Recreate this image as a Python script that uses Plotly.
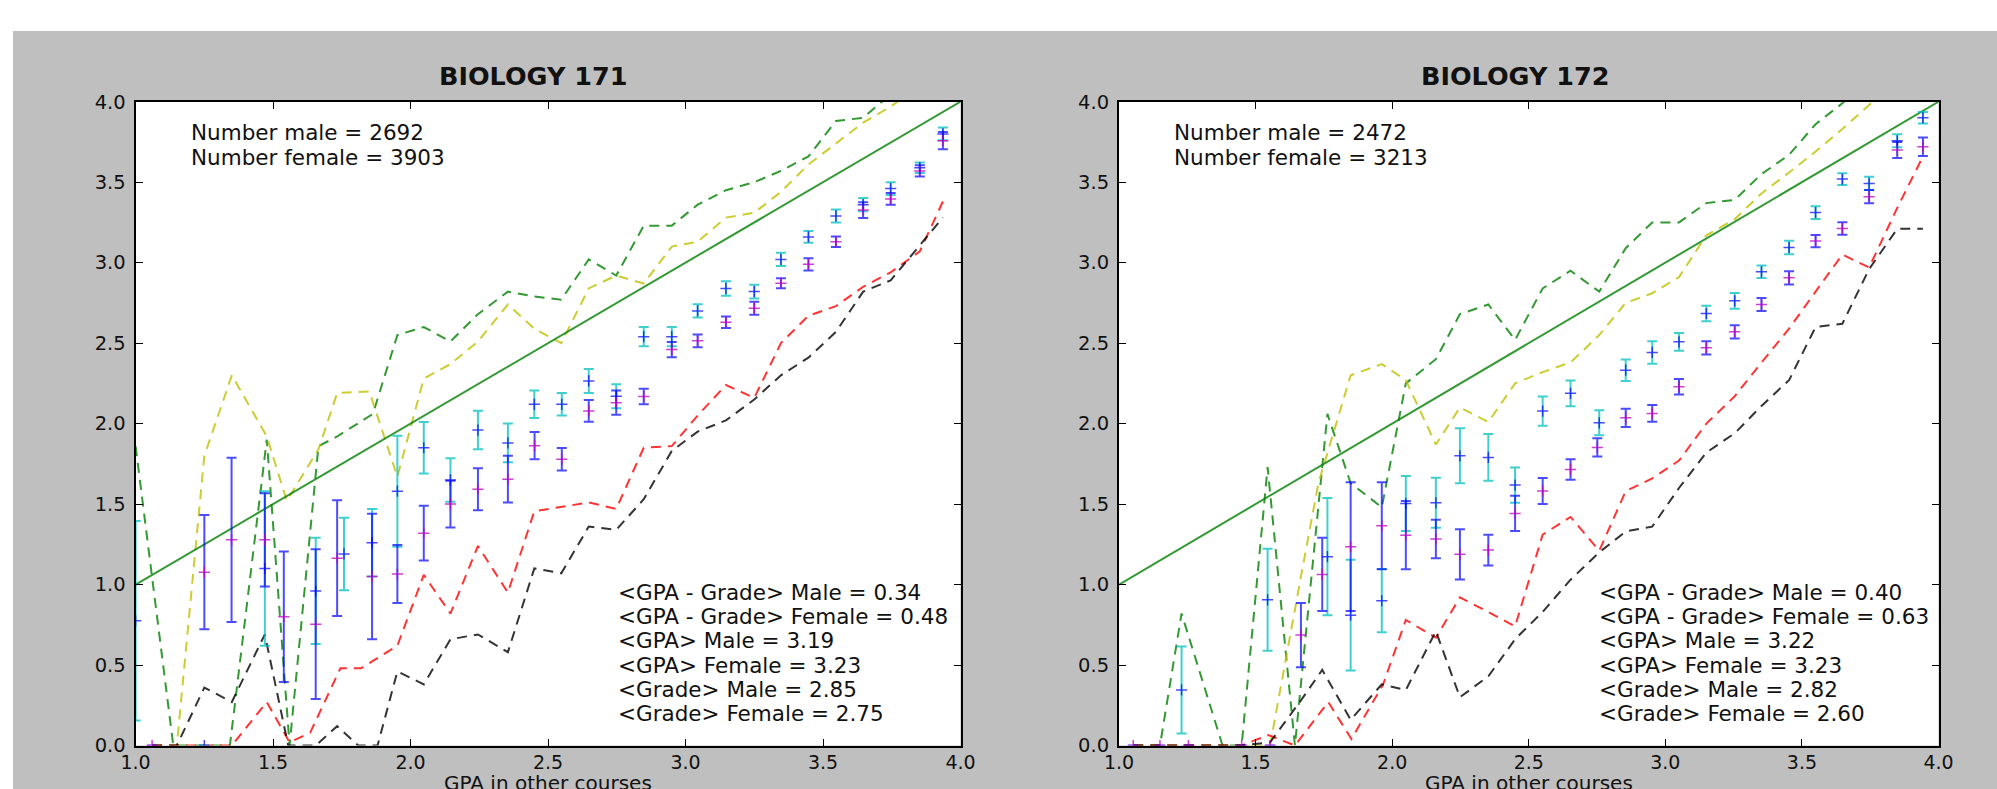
import plotly.graph_objects as go

# ---------------- BIOLOGY 171 ----------------
b171_male_x = [1.0, 1.25, 1.47, 1.655, 1.758, 1.86, 1.952, 2.048, 2.145, 2.245, 2.354, 2.45, 2.55, 2.648,
               2.748, 2.848, 2.95, 3.044, 3.147, 3.25, 3.347, 3.447, 3.547, 3.646, 3.746, 3.852, 3.936]
b171_male_y = [0.775, 0.0, 1.10, 0.96, 1.19, 1.26, 1.58, 1.85, 1.65, 1.96, 1.88, 2.12, 2.12, 2.265,
               2.17, 2.54, 2.54, 2.70, 2.84, 2.82, 3.02, 3.16, 3.29, 3.36, 3.46, 3.59, 3.80]
b171_male_err = [0.62, 0.0, 0.48, 0.33, 0.225, 0.21, 0.345, 0.16, 0.135, 0.12, 0.12, 0.085, 0.07, 0.075,
                 0.075, 0.06, 0.06, 0.041, 0.045, 0.043, 0.041, 0.036, 0.041, 0.041, 0.04, 0.033, 0.04]

b171_female_x = [1.06, 1.25, 1.349, 1.47, 1.539, 1.655, 1.733, 1.86, 1.952, 2.048, 2.145, 2.245, 2.354,
                 2.451, 2.55, 2.648, 2.748, 2.848, 2.95, 3.044, 3.147, 3.25, 3.347, 3.447, 3.547, 3.646,
                 3.746, 3.852, 3.936]
b171_female_y = [0.0, 1.077, 1.278, 1.278, 0.80, 0.754, 1.164, 1.05, 1.065, 1.319, 1.50, 1.592, 1.655,
                 1.863, 1.779, 2.079, 2.13, 2.168, 2.46, 2.514, 2.63, 2.717, 2.872, 2.99, 3.13, 3.327,
                 3.396, 3.57, 3.758]
b171_female_err = [0.0, 0.355, 0.51, 0.29, 0.405, 0.465, 0.36, 0.39, 0.18, 0.17, 0.145, 0.13, 0.145,
                   0.085, 0.07, 0.067, 0.075, 0.048, 0.047, 0.04, 0.036, 0.04, 0.031, 0.038, 0.033, 0.049,
                   0.036, 0.035, 0.053]

b171_green_x = [1.0, 1.137, 1.25, 1.343, 1.477, 1.56, 1.665, 1.733, 1.863, 1.952, 2.048, 2.145, 2.245,
                2.354, 2.45, 2.548, 2.648, 2.748, 2.848, 2.95, 3.044, 3.147, 3.25, 3.347, 3.447, 3.547,
                3.646, 3.746, 3.852, 3.936]
b171_green_y = [1.86, 0.0, 0.0, 0.0, 1.90, 0.0, 1.86, 1.92, 2.06, 2.55, 2.60, 2.51, 2.68, 2.82, 2.79,
                2.77, 3.02, 2.92, 3.23, 3.23, 3.36, 3.45, 3.50, 3.57, 3.66, 3.88, 3.90, 4.05, 4.2, 4.3]

b171_yellow_x = [1.06, 1.15, 1.25, 1.35, 1.477, 1.55, 1.665, 1.733, 1.85, 1.952, 2.048, 2.145, 2.245,
                 2.354, 2.45, 2.548, 2.648, 2.748, 2.848, 2.95, 3.044, 3.147, 3.25, 3.347, 3.447, 3.547,
                 3.646, 3.746, 3.852, 3.936]
b171_yellow_y = [0.0, 0.0, 1.80, 2.30, 1.92, 1.52, 1.84, 2.19, 2.20, 1.67, 2.28, 2.37, 2.51, 2.74, 2.59,
                 2.50, 2.84, 2.92, 2.87, 3.10, 3.13, 3.28, 3.31, 3.44, 3.61, 3.74, 3.87, 3.97, 4.1, 4.2]

b171_red_x = [1.06, 1.15, 1.25, 1.35, 1.477, 1.56, 1.635, 1.745, 1.82, 1.952, 2.048, 2.145, 2.245, 2.354,
              2.45, 2.548, 2.648, 2.748, 2.848, 2.95, 3.044, 3.147, 3.25, 3.347, 3.447, 3.547, 3.646,
              3.746, 3.852, 3.936]
b171_red_y = [0.0, 0.0, 0.0, 0.0, 0.27, 0.02, 0.08, 0.48, 0.48, 0.62, 1.06, 0.82, 1.24, 0.95, 1.455,
              1.48, 1.51, 1.47, 1.85, 1.86, 2.05, 2.24, 2.16, 2.50, 2.67, 2.73, 2.85, 2.94, 3.07, 3.38]

b171_black_x = [1.06, 1.15, 1.25, 1.35, 1.47, 1.555, 1.655, 1.733, 1.81, 1.88, 1.952, 2.048, 2.145,
                2.245, 2.354, 2.45, 2.548, 2.648, 2.748, 2.848, 2.95, 3.044, 3.147, 3.25, 3.347, 3.447,
                3.547, 3.646, 3.746, 3.852, 3.936]
b171_black_y = [0.0, 0.0, 0.36, 0.27, 0.69, 0.0, 0.0, 0.12, 0.0, 0.0, 0.46, 0.38, 0.66, 0.69, 0.58,
                1.10, 1.07, 1.36, 1.34, 1.53, 1.83, 1.95, 2.02, 2.15, 2.30, 2.41, 2.57, 2.82, 2.89,
                3.11, 3.28]

b171_counts = ["Number male = 2692", "Number female = 3903"]
b171_stats = ["<GPA - Grade> Male = 0.34", "<GPA - Grade> Female = 0.48", "<GPA> Male = 3.19",
              "<GPA> Female = 3.23", "<Grade> Male = 2.85", "<Grade> Female = 2.75"]

# ---------------- BIOLOGY 172 ----------------
b172_male_x = [1.229, 1.544, 1.763, 1.848, 1.962, 2.05, 2.16, 2.248, 2.352, 2.45, 2.551, 2.653, 2.758,
               2.855, 2.952, 3.05, 3.15, 3.254, 3.352, 3.453, 3.55, 3.648, 3.746, 3.849, 3.943]
b172_male_y = [0.345, 0.905, 1.173, 0.81, 0.90, 1.504, 1.508, 1.80, 1.79, 1.618, 2.078, 2.188, 2.005,
               2.332, 2.442, 2.508, 2.684, 2.763, 2.943, 3.094, 3.311, 3.519, 3.492, 3.757, 3.90]
b172_male_err = [0.27, 0.317, 0.364, 0.344, 0.197, 0.171, 0.155, 0.171, 0.145, 0.11, 0.091, 0.08, 0.078,
                 0.067, 0.07, 0.055, 0.048, 0.049, 0.039, 0.042, 0.04, 0.036, 0.041, 0.04, 0.036]

b172_female_x = [1.052, 1.15, 1.254, 1.449, 1.553, 1.666, 1.744, 1.848, 1.962, 2.05, 2.16, 2.248, 2.352,
                 2.45, 2.551, 2.653, 2.751, 2.855, 2.952, 3.05, 3.15, 3.254, 3.352, 3.453, 3.55, 3.648,
                 3.746, 3.849, 3.943]
b172_female_y = [0.0, 0.0, 0.0, 0.0, 0.0, 0.686, 1.063, 1.235, 1.365, 1.307, 1.283, 1.188, 1.214, 1.442,
                 1.581, 1.715, 1.852, 2.036, 2.063, 2.229, 2.471, 2.57, 2.74, 2.906, 3.134, 3.212, 3.41,
                 3.70, 3.72]
b172_female_err = [0.0, 0.0, 0.0, 0.0, 0.0, 0.2, 0.228, 0.40, 0.27, 0.212, 0.119, 0.156, 0.096, 0.11,
                   0.081, 0.064, 0.057, 0.057, 0.052, 0.048, 0.041, 0.041, 0.041, 0.041, 0.038, 0.039,
                   0.041, 0.05, 0.057]

b172_green_x = [1.052, 1.15, 1.229, 1.379, 1.449, 1.544, 1.644, 1.763, 1.848, 1.962, 2.05, 2.16, 2.248,
                2.352, 2.45, 2.551, 2.653, 2.758, 2.855, 2.952, 3.05, 3.15, 3.254, 3.352, 3.453, 3.55,
                3.648, 3.746, 3.849, 3.943]
b172_green_y = [0.0, 0.0, 0.82, 0.0, 0.0, 1.73, 0.0, 2.06, 1.63, 1.48, 2.25, 2.40, 2.68, 2.74, 2.52,
                2.84, 2.95, 2.82, 3.09, 3.25, 3.25, 3.37, 3.39, 3.55, 3.67, 3.86, 3.99, 4.15, 4.3, 4.4]

b172_yellow_x = [1.052, 1.449, 1.553, 1.666, 1.73, 1.848, 1.962, 2.05, 2.16, 2.248, 2.352, 2.45, 2.551,
                 2.653, 2.758, 2.855, 2.952, 3.05, 3.15, 3.254, 3.352, 3.453, 3.55, 3.648, 3.746, 3.849,
                 3.943]
b172_yellow_y = [0.0, 0.0, 0.0, 1.05, 1.63, 2.30, 2.37, 2.27, 1.87, 2.10, 2.01, 2.25, 2.32, 2.38, 2.55,
                 2.75, 2.81, 2.91, 3.17, 3.27, 3.43, 3.56, 3.69, 3.83, 3.98, 4.15, 4.3]

b172_red_x = [1.052, 1.449, 1.547, 1.644, 1.766, 1.851, 1.967, 2.05, 2.16, 2.248, 2.352, 2.45, 2.551,
              2.653, 2.758, 2.855, 2.952, 3.05, 3.15, 3.254, 3.352, 3.453, 3.55, 3.648, 3.746, 3.849, 3.943]
b172_red_y = [0.0, 0.0, 0.065, 0.0, 0.27, 0.04, 0.38, 0.78, 0.67, 0.92, 0.83, 0.74, 1.31, 1.42, 1.21,
              1.58, 1.66, 1.77, 2.0, 2.17, 2.38, 2.59, 2.82, 3.05, 2.97, 3.34, 3.66]

b172_black_x = [1.052, 1.449, 1.553, 1.666, 1.744, 1.848, 1.962, 2.05, 2.16, 2.248, 2.352, 2.45, 2.551,
                2.653, 2.758, 2.855, 2.952, 3.05, 3.15, 3.254, 3.352, 3.453, 3.55, 3.648, 3.746, 3.849,
                3.943]
b172_black_y = [0.0, 0.0, 0.02, 0.28, 0.47, 0.16, 0.38, 0.345, 0.71, 0.30, 0.43, 0.66, 0.83, 1.03, 1.20,
                1.33, 1.36, 1.60, 1.82, 1.94, 2.11, 2.27, 2.60, 2.62, 2.96, 3.21, 3.21]

b172_counts = ["Number male = 2472", "Number female = 3213"]
b172_stats = ["<GPA - Grade> Male = 0.40", "<GPA - Grade> Female = 0.63", "<GPA> Male = 3.22",
              "<GPA> Female = 3.23", "<Grade> Male = 2.82", "<Grade> Female = 2.60"]

diag_x = [1.0, 4.0]
diag_y = [1.0, 4.0]

titles = ["BIOLOGY 171", "BIOLOGY 172"]
x_label = "GPA in other courses"
tick_vals = [0.0, 0.5, 1.0, 1.5, 2.0, 2.5, 3.0, 3.5, 4.0]
tick_text = ["0.0", "0.5", "1.0", "1.5", "2.0", "2.5", "3.0", "3.5", "4.0"]
x_tick_vals = [1.0, 1.5, 2.0, 2.5, 3.0, 3.5, 4.0]
x_tick_text = ["1.0", "1.5", "2.0", "2.5", "3.0", "3.5", "4.0"]

# ---------------- styling ----------------
W, H = 1997, 789
FONT = "DejaVu Sans"
TXT = "#111111"
C_GREEN = "rgba(0,128,0,0.8)"
C_YELLOW = "rgba(191,191,0,0.8)"
C_RED = "rgba(255,0,0,0.8)"
C_BLACK = "rgba(0,0,0,0.8)"
C_CYAN = "rgba(0,191,191,0.75)"
C_BLUE = "rgba(0,0,255,0.7)"
C_MAG = "rgba(191,0,191,0.75)"
DASH = "10px,7px"


def px_x(px):
    return px / W


def px_y(py):
    return (H - py) / H


panels = [
    dict(xa="x", ya="y", dom=[135.6 / W, 960.5 / W], title_px=533.5, txt_px=188.5, stat_px=615.5,
         male=(b171_male_x, b171_male_y, b171_male_err),
         female=(b171_female_x, b171_female_y, b171_female_err),
         lines=[(b171_green_x, b171_green_y, C_GREEN), (b171_yellow_x, b171_yellow_y, C_YELLOW),
                (b171_red_x, b171_red_y, C_RED), (b171_black_x, b171_black_y, C_BLACK)],
         counts=b171_counts, stats=b171_stats, title=titles[0]),
    dict(xa="x2", ya="y2", dom=[1119.0 / W, 1938.5 / W], title_px=1515.5, txt_px=1171.5, stat_px=1596.5,
         male=(b172_male_x, b172_male_y, b172_male_err),
         female=(b172_female_x, b172_female_y, b172_female_err),
         lines=[(b172_green_x, b172_green_y, C_GREEN), (b172_yellow_x, b172_yellow_y, C_YELLOW),
                (b172_red_x, b172_red_y, C_RED), (b172_black_x, b172_black_y, C_BLACK)],
         counts=b172_counts, stats=b172_stats, title=titles[1]),
]

y_dom = [(H - 745.5) / H, (H - 101.7) / H]

CNT_SIZE = 21.5
STAT_SIZE = 21.5
fig = go.Figure()
annotations = []
for p in panels:
    for lx, ly, col in p["lines"]:
        fig.add_trace(go.Scatter(x=lx, y=ly, mode="lines", xaxis=p["xa"], yaxis=p["ya"],
                                 line=dict(color=col, width=2, dash=DASH), showlegend=False,
                                 hoverinfo="skip"))
    fig.add_trace(go.Scatter(x=diag_x, y=diag_y, mode="lines", xaxis=p["xa"], yaxis=p["ya"],
                             line=dict(color=C_GREEN, width=2), showlegend=False, hoverinfo="skip"))
    mx, my, me = p["male"]
    fig.add_trace(go.Scatter(x=mx, y=my, mode="markers", xaxis=p["xa"], yaxis=p["ya"],
                             error_y=dict(type="data", array=me, color=C_CYAN, thickness=2, width=5),
                             marker=dict(symbol="cross-thin", size=8, color=C_BLUE,
                                         line=dict(color=C_BLUE, width=1.5)),
                             showlegend=False))
    fx, fy, fe = p["female"]
    fig.add_trace(go.Scatter(x=fx, y=fy, mode="markers", xaxis=p["xa"], yaxis=p["ya"],
                             error_y=dict(type="data", array=fe, color=C_BLUE, thickness=2, width=5),
                             marker=dict(symbol="cross-thin", size=8, color=C_MAG,
                                         line=dict(color=C_MAG, width=1.5)),
                             showlegend=False))
    # title
    annotations.append(dict(xref="paper", yref="paper", x=px_x(p["title_px"]), y=px_y(76),
                            text="<b>" + p["title"] + "</b>", showarrow=False, xanchor="center",
                            yanchor="middle", font=dict(family=FONT, size=25.5, color=TXT)))
    # counts text, one annotation per line (baselines 140, 165 px)
    for i, line in enumerate(p["counts"]):
        base = 140 + 25 * i
        annotations.append(dict(xref="paper", yref="paper", x=px_x(p["txt_px"]),
                                y=px_y(base - 0.346 * CNT_SIZE), text=line, showarrow=False,
                                xanchor="left", yanchor="middle",
                                font=dict(family=FONT, size=CNT_SIZE, color=TXT)))
    # stats text, one per line (baselines 600 .. 721 px)
    for i, line in enumerate(p["stats"]):
        base = 600 + 24.2 * i
        annotations.append(dict(xref="paper", yref="paper", x=px_x(p["stat_px"]),
                                y=px_y(base - 0.346 * STAT_SIZE),
                                text=line.replace("<", "&lt;").replace(">", "&gt;"), showarrow=False,
                                xanchor="left", yanchor="middle",
                                font=dict(family=FONT, size=STAT_SIZE, color=TXT)))
    # x label (its lower part falls off the bottom edge, as in the original)
    annotations.append(dict(xref="paper", yref="paper", x=(p["dom"][0] + p["dom"][1]) / 2,
                            y=px_y(769), text=x_label, showarrow=False, xanchor="center",
                            yanchor="top", font=dict(family=FONT, size=20, color=TXT)))

axis_common = dict(showgrid=False, zeroline=False, showline=True, linecolor="black", linewidth=2,
                   mirror="allticks", ticks="inside", ticklen=7, tickwidth=1.2, tickcolor="black",
                   automargin=False)
x_font = dict(family=FONT, size=19, color=TXT)
y_font = dict(family=FONT, size=19.5, color=TXT)

fig.update_layout(
    template="none",
    width=W, height=H, autosize=False,
    margin=dict(l=0, r=0, t=0, b=0, pad=0, autoexpand=False),
    paper_bgcolor="#bfbfbf", plot_bgcolor="#ffffff",
    shapes=[
        dict(type="rect", xref="paper", yref="paper", x0=-0.01, x1=1.01, y0=px_y(31), y1=1.01,
             fillcolor="#ffffff", line=dict(width=0), layer="below"),
        dict(type="rect", xref="paper", yref="paper", x0=-0.01, x1=px_x(13), y0=-0.01, y1=1.01,
             fillcolor="#ffffff", line=dict(width=0), layer="below"),
    ],
    annotations=annotations,
    xaxis=dict(domain=panels[0]["dom"], range=[1, 4], anchor="y", tickvals=x_tick_vals,
               ticktext=x_tick_text, tickfont=x_font, ticklabelstandoff=-1, **axis_common),
    yaxis=dict(domain=y_dom, range=[0, 4], anchor="x", tickvals=tick_vals, ticktext=tick_text,
               tickfont=y_font, ticklabelstandoff=4, **axis_common),
    xaxis2=dict(domain=panels[1]["dom"], range=[1, 4], anchor="y2", tickvals=x_tick_vals,
                ticktext=x_tick_text, tickfont=x_font, ticklabelstandoff=-1, **axis_common),
    yaxis2=dict(domain=y_dom, range=[0, 4], anchor="x2", tickvals=tick_vals, ticktext=tick_text,
                tickfont=y_font, ticklabelstandoff=4, **axis_common),
)

fig.write_html("out.html", config={"displayModeBar": False, "responsive": False},
               post_script="document.body.style.margin='0px';document.body.style.padding='0px';"
                           "document.body.style.overflow='hidden';")
